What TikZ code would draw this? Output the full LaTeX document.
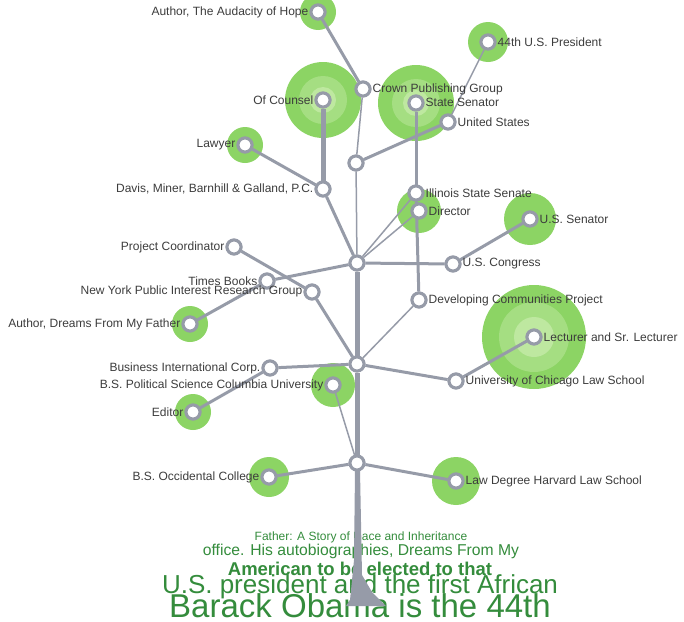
\documentclass[tikz,border=0pt]{standalone}
\usepackage{fontspec}
\setmainfont{Liberation Sans}
\begin{document}
\begin{tikzpicture}[x=1pt,y=-1pt,
  dot/.style={circle,draw=edgec,fill=white,line width=3pt,minimum size=14pt,inner sep=0pt},
  lab/.style={font=\fontsize{12}{12}\selectfont,text=labc,inner sep=1pt},
  ed/.style={draw=edgec,line width=3pt},
  thin/.style={draw=edgec,line width=1.5pt},
  thick/.style={draw=edgec,line width=5pt},
  gtxt/.style={text=txtg,inner sep=0pt}]
\definecolor{edgec}{RGB}{150,155,168}
\definecolor{labc}{RGB}{60,60,60}
\definecolor{gr}{RGB}{140,212,100}
\definecolor{gr2}{RGB}{165,222,130}
\definecolor{gr3}{RGB}{190,232,160}
\definecolor{txtg}{RGB}{52,140,60}
\useasboundingbox (0,0) rectangle (684,621);
% bottom text
\node[gtxt,font=\fontsize{12}{12}\selectfont] (t1) at (361,537) {Father: A Story of Race and Inheritance};
\node[gtxt,font=\fontsize{15.7}{15.7}\selectfont] (t2) at (361,551) {office. His autobiographies, Dreams From My};
\node[gtxt,font=\bfseries\fontsize{18.5}{18.5}\selectfont] (t3) at (360,569) {American to be elected to that};
\node[gtxt,font=\fontsize{26}{26}\selectfont] (t4) at (360,587) {U.S. president and the first African};
\node[gtxt,font=\fontsize{33}{33}\selectfont] (t5) at (360,606) {Barack Obama is the 44th};
% halos
\fill[gr] (269,477) circle (20);
\fill[gr] (456,481) circle (24);
\fill[gr] (193,412) circle (18);
\fill[gr] (333,385) circle (22);
\fill[gr] (534,337) circle (52);
\fill[gr2] (534,337) circle (35);
\fill[gr3] (534,337) circle (20);
\fill[gr] (190,324) circle (18);
\fill[gr] (530,219) circle (26);
\fill[gr] (419,211) circle (22);
\fill[gr] (245,145) circle (18);
\fill[gr] (323,100) circle (38);
\fill[gr2] (323,100) circle (24);
\fill[gr3] (323,100) circle (13);
\fill[gr] (416,103) circle (38);
\fill[gr2] (416,103) circle (24);
\fill[gr3] (416,103) circle (13);
\fill[gr] (318,12) circle (18);
\fill[gr] (488,42) circle (20);
% nodes
\node[dot] (n1) at (357,463) {};
\node[dot] (occ) at (269,477) {};
\node[dot] (harv) at (456,481) {};
\node[dot] (n2) at (357,364) {};
\node[dot] (bus) at (270,368) {};
\node[dot] (edi) at (193,412) {};
\node[dot] (bsp) at (333,385) {};
\node[dot] (chi) at (456,381) {};
\node[dot] (lec) at (534,337) {};
\node[dot] (dev) at (419,300) {};
\node[dot] (nyp) at (312,292) {};
\node[dot] (pc) at (234,247) {};
\node[dot] (n3) at (357,263) {};
\node[dot] (tb) at (267,281) {};
\node[dot] (adf) at (190,324) {};
\node[dot] (cong) at (453,264) {};
\node[dot] (sen) at (530,219) {};
\node[dot] (dir) at (419,211) {};
\node[dot] (iss) at (416,193) {};
\node[dot] (dav) at (323,189) {};
\node[dot] (law) at (245,145) {};
\node[dot] (oc) at (323,100) {};
\node[dot] (n4) at (356,163) {};
\node[dot] (crown) at (363,89) {};
\node[dot] (aud) at (318,12) {};
\node[dot] (us) at (448,122) {};
\node[dot] (ss) at (416,103) {};
\node[dot] (pres) at (488,42) {};
% edges
\fill[edgec] (n1.center) -- (355,470) -- (354,560) -- (350,600) -- (346,606) -- (386,606) -- (372,592) -- (362,575) -- (360,470) -- cycle;
\path[thick] (n1) -- (n2);
\path[thick] (n2) -- (n3);
\path[ed] (n1) -- (occ); \path[ed] (n1) -- (harv);
\path[thin] (n1) -- (bsp);
\path[ed] (n2) -- (bus); \path[ed] (bus) -- (edi);
\path[ed] (n2) -- (chi); \path[ed] (chi) -- (lec);
\path[thin] (n2) -- (dev); \path[ed] (dev) -- (iss);
\path[ed] (n2) -- (nyp); \path[ed] (nyp) -- (pc);
\path[ed] (n3) -- (tb); \path[ed] (tb) -- (adf);
\path[ed] (n3) -- (cong); \path[ed] (cong) -- (sen);
\path[thin] (n3) -- (dir); \path[thin] (n3) -- (iss);
\path[ed] (n3) -- (dav); \path[ed] (dav) -- (law); \path[thick] (dav) -- (oc);
\path[thin] (n3) -- (n4); \path[thin] (n4) -- (crown); \path[ed] (crown) -- (aud);
\path[ed] (n4) -- (us); \path[thin] (us) -- (pres);
\path[ed] (iss) -- (ss);
% redraw nodes on top
\foreach \n in {n1,occ,harv,n2,bus,edi,bsp,chi,lec,dev,nyp,pc,n3,tb,adf,cong,sen,dir,iss,dav,law,oc,n4,crown,aud,us,ss,pres}
  \draw[edgec,fill=white,line width=3pt] (\n.center) circle (7);
% labels
\node[lab,anchor=east] (lAud) at (aud.west) {Author, The Audacity of Hope};
\node[lab,anchor=west] (lPres) at (pres.east) {44th U.S. President};
\node[lab,anchor=east] (lOc) at (oc.west) {Of Counsel};
\node[lab,anchor=west] (lCr) at (crown.east) {Crown Publishing Group};
\node[lab,anchor=west] (lSs) at ([yshift=1pt]ss.east) {State Senator};
\node[lab,anchor=west] (lUs) at (us.east) {United States};
\node[lab,anchor=east] (lLaw) at (law.west) {Lawyer};
\node[lab,anchor=east] (lDav) at (dav.west) {Davis, Miner, Barnhill \& Galland, P.C.};
\node[lab,anchor=west] (lIss) at (iss.east) {Illinois State Senate};
\node[lab,anchor=west] (lDir) at (dir.east) {Director};
\node[lab,anchor=west] (lSen) at (sen.east) {U.S. Senator};
\node[lab,anchor=east] (lPc) at (pc.west) {Project Coordinator};
\node[lab,anchor=west] (lCong) at (cong.east) {U.S. Congress};
\node[lab,anchor=east] (lTb) at (tb.west) {Times Books};
\node[lab,anchor=east] (lNyp) at ([yshift=1pt]nyp.west) {New York Public Interest Research Group};
\node[lab,anchor=west] (lDev) at (dev.east) {Developing Communities Project};
\node[lab,anchor=east] (lAdf) at (adf.west) {Author, Dreams From My Father};
\node[lab,anchor=west] (lLec) at (lec.east) {Lecturer and Sr. Lecturer};
\node[lab,anchor=east] (lBus) at (bus.west) {Business International Corp.};
\node[lab,anchor=west] (lChi) at (chi.east) {University of Chicago Law School};
\node[lab,anchor=east] (lBsp) at (bsp.west) {B.S. Political Science Columbia University};
\node[lab,anchor=east] (lEdi) at (edi.west) {Editor};
\node[lab,anchor=east] (lOcc) at (occ.west) {B.S. Occidental College};
\node[lab,anchor=west] (lHarv) at (harv.east) {Law Degree Harvard Law School};
\end{tikzpicture}
\end{document}
